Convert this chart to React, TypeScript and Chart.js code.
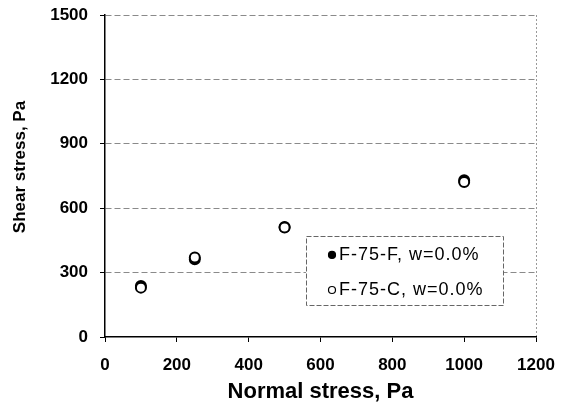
import React, { useEffect, useRef } from "react";
import { Chart, registerables } from "chart.js";

Chart.register(...registerables);

const seriesLabels = ["F-75-F, w=0.0%", "F-75-C, w=0.0%"];
const normalStress = [100, 250, 500, 1000];
const shearF = [238, 362, 512, 730];
const shearC = [230, 370, 510, 722];
const xTickValues = [0, 200, 400, 600, 800, 1000, 1200];
const yTickValues = [0, 300, 600, 900, 1200, 1500];
const xTitle = "Normal stress, Pa";
const yTitle = "Shear stress, Pa";

const FONT = "'Liberation Sans', Arial, sans-serif";

const legendBox = {
  id: "legendBox",
  afterDatasetsDraw(chart: any) {
    const { ctx, chartArea: ca } = chart;
    const w = ca.right - ca.left;
    const h = ca.bottom - ca.top;
    const x0 = Math.round(ca.left + 0.466 * w);
    const x1 = Math.round(ca.left + 0.923 * w);
    const y0 = Math.round(ca.top + 0.686 * h);
    const y1 = Math.round(ca.top + 0.901 * h);
    ctx.save();
    ctx.fillStyle = "#fff";
    ctx.fillRect(x0, y0, x1 - x0, y1 - y0);
    ctx.strokeStyle = "#666";
    ctx.lineWidth = 1;
    ctx.setLineDash([5, 2]);
    ctx.strokeRect(x0 + 0.5, y0 + 0.5, x1 - x0, y1 - y0);
    ctx.setLineDash([]);
    const rows = [0.745, 0.854];
    const fills = ["#000", "#fff"];
    seriesLabels.forEach((label, i) => {
      const y = ca.top + rows[i] * h;
      ctx.beginPath();
      ctx.arc(x0 + 26, y, 3.5, 0, Math.PI * 2);
      ctx.fillStyle = fills[i];
      ctx.fill();
      ctx.lineWidth = 1.2;
      ctx.strokeStyle = "#000";
      ctx.stroke();
      ctx.fillStyle = "#000";
      ctx.font = `18px ${FONT}`;
      (ctx as any).letterSpacing = "1px";
      ctx.textBaseline = "middle";
      ctx.textAlign = "left";
      ctx.fillText(label, x0 + 33, y);
      (ctx as any).letterSpacing = "0px";
    });
    ctx.restore();
  },
};

const yTitlePlugin = {
  id: "yTitlePlugin",
  afterDraw(chart: any) {
    const { ctx, chartArea: ca } = chart;
    ctx.save();
    ctx.translate(20, (ca.top + ca.bottom) / 2 - 9);
    ctx.rotate(-Math.PI / 2);
    ctx.font = `bold 17px ${FONT}`;
    ctx.fillStyle = "#000";
    ctx.textAlign = "center";
    ctx.textBaseline = "middle";
    ctx.fillText(yTitle, 0, 0);
    ctx.restore();
  },
};

export default function App() {
  const ref = useRef<HTMLCanvasElement>(null);

  useEffect(() => {
    document.body.style.margin = "0";
    const canvas = ref.current!;
    const chart = new Chart(canvas, {
      type: "scatter",
      data: {
        datasets: [
          {
            label: seriesLabels[0],
            data: normalStress.map((x, i) => ({ x, y: shearF[i] })),
            backgroundColor: "#000",
            borderColor: "#000",
            borderWidth: 2,
            pointRadius: 5,
            order: 1,
          },
          {
            label: seriesLabels[1],
            data: normalStress.map((x, i) => ({ x, y: shearC[i] })),
            backgroundColor: "#fff",
            borderColor: "#000",
            borderWidth: 2,
            pointRadius: 5,
            order: 0,
          },
        ],
      },
      options: {
        responsive: false,
        animation: false,
        devicePixelRatio: 1,
        layout: { padding: { left: 0, right: 25, top: 15, bottom: 0 } },
        plugins: {
          legend: { display: false },
          tooltip: { enabled: false },
        },
        scales: {
          x: {
            type: "linear",
            min: 0,
            max: 1200,
            afterBuildTicks: (s: any) => {
              s.ticks = xTickValues.map((v) => ({ value: v }));
            },
            afterFit: (s: any) => {
              s.height = 73;
              s.paddingLeft = 0;
              s.paddingRight = 0;
            },
            ticks: {
              color: "#000",
              font: { family: FONT, size: 17, weight: "bold" },
              padding: 13,
              maxRotation: 0,
              callback: (v: any) => String(v),
            },
            grid: {
              color: (c: any) => (c.tick && c.tick.value === 1200 ? "#999" : "rgba(0,0,0,0)"),
              tickColor: "#000",
              tickLength: 5,
              lineWidth: 1,
            },
            border: { color: "#000", width: 1.5, dash: [2, 2] },
            title: {
              display: true,
              text: xTitle,
              color: "#000",
              font: { family: FONT, size: 22, weight: "bold" },
              padding: { top: 4, bottom: 5 },
            },
          },
          y: {
            type: "linear",
            min: 0,
            max: 1500,
            afterBuildTicks: (s: any) => {
              s.ticks = yTickValues.map((v) => ({ value: v }));
            },
            afterFit: (s: any) => {
              s.width = 105;
              s.paddingTop = 0;
              s.paddingBottom = 0;
            },
            ticks: {
              color: "#000",
              font: { family: FONT, size: 17, weight: "bold" },
              padding: 12,
              callback: (v: any) => String(v),
            },
            grid: {
              color: (c: any) => (c.tick && c.tick.value === 0 ? "rgba(0,0,0,0)" : "#8a8a8a"),
              tickColor: "#000",
              tickLength: 5,
              lineWidth: 1,
            },
            border: { color: "#000", width: 1.5, dash: [6, 3] },
            title: { display: false },
          },
        },
      },
      plugins: [legendBox, yTitlePlugin],
    } as any);
    return () => chart.destroy();
  }, []);

  return (
    <div style={{ width: 561, height: 410, background: "#fff" }}>
      <canvas ref={ref} width={561} height={410} style={{ display: "block" }} />
    </div>
  );
}
